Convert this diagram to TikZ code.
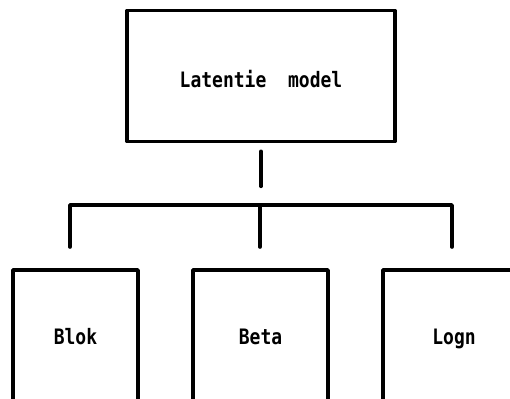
\documentclass[tikz,border=0pt]{standalone}
\usepackage{fontspec}
\setmonofont{DejaVu Sans Mono}
\usetikzlibrary{calc}
% narrow, tall bold lettering
\newcommand{\tallword}[1]{\scalebox{1}[1.18]{#1}}
\begin{document}
\begin{tikzpicture}[x=1pt,y=-1pt,
  wire/.style={line width=3.6pt,line cap=round,line join=round},
  box/.style={draw,line width=3.6pt,line join=round,inner sep=0pt,
    text height=15pt,text depth=0pt,
    font=\ttfamily\bfseries\fontsize{18}{20}\selectfont},
]
\useasboundingbox (0,0) rectangle (510,398);
\clip (0,0) rectangle (510,398);

% top block
\node[box,minimum width=268pt,minimum height=131pt] (top) at (261,76)
  {\raisebox{-4pt}{\tallword{Latentie\ \ model}}};

% three sub-blocks (lower edges run past the page)
\node[box,minimum width=125pt,minimum height=134pt] (blok) at (75.5,337) {\tallword{Blok}};
\node[box,minimum width=135pt,minimum height=134pt] (beta) at (260.5,337) {\tallword{Beta}};
\node[box,minimum width=142pt,minimum height=134pt] (logn) at (454,337) {\tallword{Logn}};

% bus coordinates
\coordinate (stemA) at ($(top.south)+(0,8)$);
\coordinate (stemB) at ($(top.south)+(0,43)$);
\coordinate (busL) at (70,205);
\coordinate (busM) at (260,205);
\coordinate (busR) at (452,205);
\coordinate (dropL) at (70,247);
\coordinate (dropM) at (260,247);
\coordinate (dropR) at (452,247);

% connectors
\draw[wire] (stemA) -- (stemB);
\draw[wire] (dropL) -- (busL) -- (busR) -- (dropR);
\draw[wire] (busM) -- (dropM);
\end{tikzpicture}
\end{document}
